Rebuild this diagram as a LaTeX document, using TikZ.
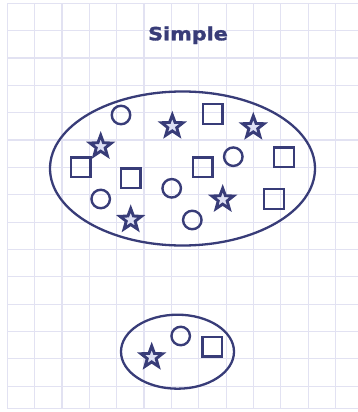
\documentclass[tikz,border=0pt]{standalone}
\usepackage{fontspec}
\newfontfamily\titlefont[FakeBold=1.6]{DejaVu Sans Bold}
\usetikzlibrary{shapes.geometric}
\definecolor{navy}{RGB}{56,60,120}
\definecolor{gridc}{RGB}{226,226,242}
\definecolor{starfill}{RGB}{222,224,244}
\begin{document}
\begin{tikzpicture}[x=1pt,y=-1pt,
  sq/.style={draw=navy,line width=2.4pt,rectangle,minimum size=19.5pt,inner sep=0pt},
  ci/.style={draw=navy,line width=2.4pt,circle,minimum size=18.5pt,inner sep=0pt},
  st/.style={draw=navy,fill=starfill,line width=2.9pt,star,star points=5,star point ratio=2.4,minimum size=22.5pt,inner sep=0pt},
  blob/.style={draw=navy,line width=2.3pt,ellipse,inner sep=0pt}]
\useasboundingbox (0,0) rectangle (358,412);
\fill[white] (0,0) rectangle (358,412);
% grid
\foreach \i in {0,...,12} \draw[gridc,line width=1.2pt] ({7.3+\i*27.35},3.3) -- ({7.3+\i*27.35},408.5);
\foreach \j in {0,...,14} \draw[gridc,line width=1.2pt] (7.3,{3.3+\j*27.35}) -- (358,{3.3+\j*27.35});
\draw[gridc,line width=1.2pt] (7.3,408.5) -- (358,408.5);
% title
\node[anchor=base,text=navy,inner sep=0pt] (title) at (188,40.3) {\scalebox{1.14}[1]{\titlefont\fontsize{18.2}{20}\selectfont Simple}};
% big set
\node[blob,minimum width=265pt,minimum height=154pt] (big) at (182.5,168.5) {};
\node[ci] (c1) at (121,115) {};
\node[ci] (c2) at (100.7,199) {};
\node[ci] (c3) at (171.7,188.3) {};
\node[ci] (c4) at (233.3,156.7) {};
\node[ci] (c5) at (192.3,220) {};
\node[sq] (s1) at (212.7,114) {};
\node[sq] (s2) at (80.7,167.3) {};
\node[sq] (s3) at (130.7,178.3) {};
\node[sq] (s4) at (202.7,167.3) {};
\node[sq] (s5) at (284,157.3) {};
\node[sq] (s6) at (274,199) {};
\node[st] (t1) at (172.3,126.2) {};
\node[st] (t2) at (253.3,127.2) {};
\node[st] (t3) at (100.7,146.5) {};
\node[st] (t4) at (130.7,219.8) {};
\node[st] (t5) at (222.7,199.5) {};
% small set
\node[blob,minimum width=113pt,minimum height=74pt] (small) at (177.5,351.7) {};
\node[st] (t6) at (151.7,357.2) {};
\node[ci] (c6) at (180.7,336) {};
\node[sq] (s7) at (212.3,346.7) {};
\end{tikzpicture}
\end{document}
